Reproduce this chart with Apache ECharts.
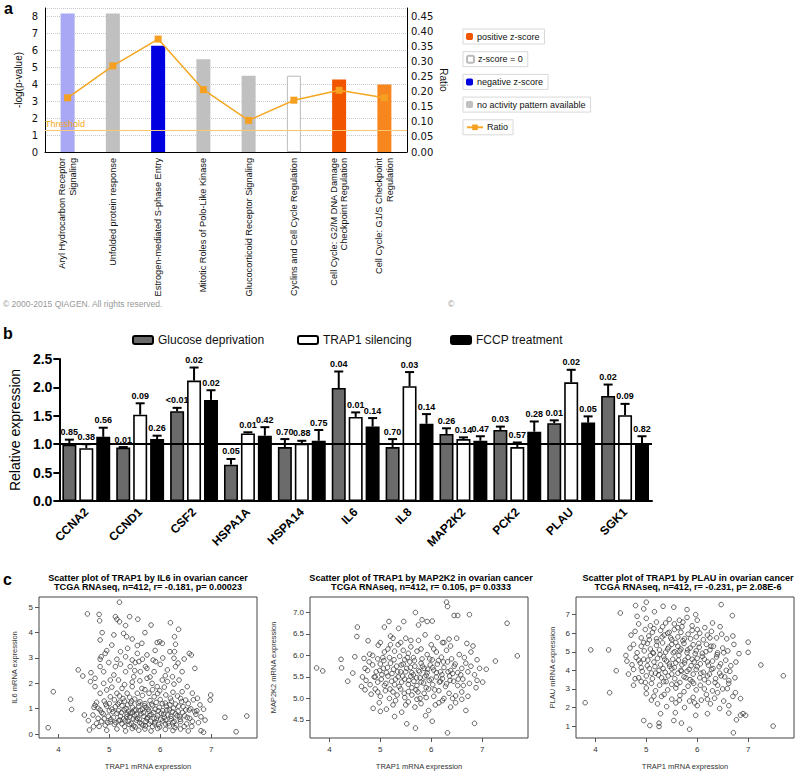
<!DOCTYPE html>
<html><head><meta charset="utf-8">
<script src="https://cdn.jsdelivr.net/npm/echarts@6/dist/echarts.min.js"></script>
<style>html,body{margin:0;padding:0;background:#fff}#c{width:798px;height:775px}</style>
</head><body><div id="c"></div>
<script>
// ---------- Panel a ----------
const pathways = ['Aryl Hydrocarbon Receptor\nSignaling','Unfolded protein response','Estrogen-mediated S-phase Entry','Mitotic Roles of Polo-Like Kinase','Glucocorticoid Receptor Signaling','Cyclins and Cell Cycle Regulation','Cell Cycle: G2/M DNA Damage\nCheckpoint Regulation','Cell Cycle: G1/S Checkpoint\nRegulation'];
const logP = [8.17, 8.17, 6.27, 5.48, 4.5, 4.5, 4.28, 3.98];
const zClass = ['negative z-score','no activity pattern available','negative z-score','no activity pattern available','no activity pattern available','z-score = 0','positive z-score','positive z-score'];
const barColors = ['#a8a8f4','#c0c0c0','#0000e0','#c0c0c0','#c0c0c0','#ffffff','#f25500','#f7861f'];
const ratio = [0.18, 0.286, 0.375, 0.207, 0.105, 0.172, 0.205, 0.18];
const threshold = 1.3;
const logPTicks = [0,1,2,3,4,5,6,7,8];
const ratioTicks = [0,0.05,0.1,0.15,0.2,0.25,0.3,0.35,0.4,0.45];

// ---------- Panel b ----------
const genes = ['CCNA2','CCND1','CSF2','HSPA1A','HSPA14','IL6','IL8','MAP2K2','PCK2','PLAU','SGK1'];
const glucoseMean = [0.99,0.94,1.58,0.64,0.95,1.99,0.95,1.18,1.25,1.37,1.85];
const glucoseErr  = [0.09,0.01,0.06,0.10,0.14,0.29,0.14,0.10,0.06,0.05,0.20];
const glucoseP    = ['0.85','0.01','<0.01','0.05','0.70','0.04','0.70','0.26','0.03','0.01','0.02'];
const trapMean = [0.93,1.52,2.12,1.19,1.01,1.48,2.02,1.09,0.95,2.09,1.51];
const trapErr  = [0.07,0.20,0.23,0.02,0.05,0.08,0.25,0.03,0.08,0.22,0.20];
const trapP    = ['0.38','0.09','0.02','0.01','0.88','0.01','0.03','0.14','0.57','0.02','0.09'];
const fccpMean = [1.13,1.09,1.78,1.15,1.06,1.31,1.36,1.06,1.22,1.38,0.99];
const fccpErr  = [0.16,0.06,0.17,0.15,0.19,0.15,0.17,0.08,0.18,0.11,0.15];
const fccpP    = ['0.56','0.26','0.02','0.42','0.75','0.14','0.14','0.47','0.28','0.05','0.82'];
const relTicks = [0,0.5,1,1.5,2,2.5];

// ---------- Panel c ----------
const trapTicks = [4,5,6,7];
const il6Ticks = [0,1,2,3,4,5];
const map2k2Ticks = [4.5,5,5.5,6,6.5,7];
const plauTicks = [1,2,3,4,5,6,7];
const il6Points = [
[3.80,0.25],[3.90,1.67],[4.24,1.37],[4.26,0.97],[4.39,2.53],[4.48,2.29],[4.57,4.74],[4.51,0.75],[4.59,0.53],[4.61,0.16],[4.64,2.42],[4.63,2.07],[4.72,2.2],[4.69,0.29],[4.72,1.14],[4.80,4.72],[4.81,4.47],[4.82,3.71],[4.82,2.95],[4.84,3.05],[4.86,4.0],[4.89,2.46],[4.92,3.18],[4.95,3.29],[5.05,3.51],[5.09,3.91],[5.12,4.63],[5.15,4.53],[5.20,5.2],[5.20,4.43],[5.28,3.97],[5.32,4.28],[5.34,3.84],[5.40,4.63],[5.36,3.38],[5.56,4.53],[5.55,3.49],[5.64,3.58],[5.82,4.3],[5.86,2.92],[5.91,2.86],[5.94,3.61],[5.99,3.64],[6.04,3.58],[6.20,4.39],[6.19,3.25],[6.28,3.25],[6.28,3.84],[6.30,3.54],[6.36,4.13],[6.47,2.96],[6.57,3.18],[6.61,3.12],[6.68,2.59],[6.99,1.54],[6.98,1.34],[7.27,0.66],[7.49,0.09],[7.70,0.71],[6.80,0.13],[6.85,0.07],[6.88,0.55],
[5.45,2.92],[5.51,2.82],[5.12,2.66],[5.22,2.76],[5.09,2.33],[5.18,2.13],[5.32,2.46],[5.48,2.26],[5.61,2.46],[5.71,2.66],[5.74,2.2],[5.84,2.0],[5.94,1.87],[6.04,2.13],[6.14,2.07],[6.24,2.26],[6.27,1.97],[6.37,2.13],[6.43,1.67],[6.53,1.87],[6.63,1.61],[6.73,1.41],[4.95,1.74],[5.02,1.47],[5.15,1.61],[5.25,1.8],[5.35,1.61],[5.45,1.87],[5.55,1.61],[5.64,1.8],[5.78,1.61],[5.88,1.47],[5.99,1.71],[6.11,1.54],[6.20,1.41],[6.34,1.5],[6.50,1.34],[4.82,1.61],[4.89,2.0],[4.72,1.87],[5.02,2.13],[5.41,2.66],[5.58,2.86],[5.74,2.59],[5.88,2.46],[6.14,2.53],[6.30,2.66],[6.43,2.46],[6.27,2.99],[5.32,3.05],[5.55,3.18],[5.74,3.12],[5.22,3.25],[4.82,2.66],[4.99,2.82],
[4.75,1.25],[4.9,1.3],[5.0,1.2],[5.1,1.35],[5.2,1.25],[5.3,1.3],[5.42,1.22],[5.5,1.38],[5.6,1.28],[5.7,1.2],[5.8,1.32],[5.92,1.25],[6.0,1.36],[6.1,1.22],[6.22,1.3],[6.3,1.18],[6.42,1.28],[6.55,1.2],[6.65,1.35],[6.78,1.15],
[4.7,1.05],[4.82,0.95],[4.95,1.1],[5.05,0.98],[5.12,1.08],[5.18,0.92],[5.25,1.12],[5.33,1.0],[5.38,0.9],[5.46,1.05],[5.52,0.95],[5.58,1.1],[5.65,0.98],[5.72,1.05],[5.78,0.9],[5.85,1.12],[5.9,0.98],[5.98,1.05],[6.05,0.92],[6.12,1.1],[6.18,0.95],[6.26,1.02],[6.35,0.9],[6.45,1.08],[6.5,0.95],[6.6,1.0],[6.72,0.92],[6.85,0.98],
[4.68,0.75],[4.78,0.62],[4.88,0.8],[4.98,0.7],[5.08,0.65],[5.15,0.82],[5.22,0.7],[5.28,0.6],[5.35,0.78],[5.4,0.68],[5.45,0.85],[5.5,0.72],[5.55,0.62],[5.62,0.8],[5.68,0.7],[5.75,0.65],[5.82,0.78],[5.88,0.62],[5.95,0.72],[6.02,0.82],[6.08,0.66],[6.15,0.75],[6.22,0.6],[6.3,0.8],[6.38,0.68],[6.48,0.72],[6.58,0.62],[6.7,0.78],[6.8,0.68],
[4.75,0.42],[4.85,0.5],[4.92,0.35],[5.02,0.48],[5.1,0.38],[5.18,0.52],[5.25,0.4],[5.3,0.3],[5.37,0.5],[5.43,0.42],[5.48,0.32],[5.53,0.55],[5.6,0.45],[5.66,0.35],[5.72,0.5],[5.78,0.4],[5.85,0.3],[5.9,0.48],[5.97,0.38],[6.05,0.52],[6.1,0.4],[6.18,0.32],[6.25,0.45],[6.32,0.35],[6.4,0.5],[6.52,0.4],[6.62,0.3],[6.75,0.45],
[4.95,0.15],[5.15,0.2],[5.32,0.12],[5.45,0.22],[5.58,0.15],[5.7,0.2],[5.82,0.12],[5.95,0.22],[6.1,0.18],[6.25,0.14],[6.4,0.2],[6.55,0.12],
[5.03,0.58],[5.07,0.88],[5.13,0.45],[5.17,1.18],[5.21,0.55],[5.24,0.85],[5.27,1.4],[5.29,0.95],[5.31,0.52],[5.34,0.68],[5.36,1.15],[5.39,0.38],[5.41,0.82],[5.44,1.3],[5.47,0.6],[5.49,0.95],[5.51,0.28],[5.54,0.78],[5.57,1.22],[5.59,0.58],[5.61,0.92],[5.63,0.4],[5.67,0.84],[5.69,1.12],[5.71,0.32],[5.74,0.6],[5.76,0.98],[5.79,0.72],[5.81,0.5],[5.83,1.18],[5.87,0.85],[5.89,0.4],[5.93,0.62],[5.96,0.92],[5.99,0.28],[6.01,0.58],[6.04,1.2],[6.07,0.78],[6.11,0.55],[6.13,0.95],[6.16,0.42],[6.19,1.15],[6.21,0.7],[6.24,0.88],[6.27,0.5],[6.29,0.25],[6.33,0.72],[6.36,1.1],[6.39,0.58],[6.44,0.85],[6.47,0.3],[6.53,0.65],[6.57,0.95],[6.63,0.5],[6.68,0.88],[4.85,0.85],[4.9,0.6],[4.93,1.18],[4.97,0.45],[5.0,0.92],[4.78,1.02],[4.8,0.3],[5.6,2.1],[5.45,2.05],[5.3,1.95],[5.7,1.75],[5.95,1.6],[6.08,1.85],[5.2,1.5],[5.4,1.45],[5.65,1.52],[5.85,1.75],[6.25,1.65],[6.4,1.4],[5.05,1.85],[5.5,2.5],[5.8,2.25],[6.1,2.3],[5.15,2.95],[5.65,2.95],[6.0,2.75],[6.35,2.8],[5.9,3.3],[5.45,3.75],[5.7,4.0],[6.05,3.0]
];
const map2k2Points = [
[3.75,5.71],[3.87,5.64],[4.23,5.91],[4.24,5.71],[4.36,5.40],[4.46,5.59],[4.50,5.97],[4.55,6.66],[4.54,6.44],[4.63,5.28],[4.68,5.93],[4.70,5.70],[4.76,6.34],[4.79,6.03],[4.86,4.77],[4.96,6.24],[5.0,4.70],[5.08,6.66],[5.17,6.79],[5.25,6.40],[5.28,4.58],[5.36,6.63],[5.46,6.79],[5.52,4.41],[5.69,7.0],[5.75,6.71],[5.82,6.83],[5.92,6.79],[6.02,6.80],[5.69,4.31],[5.89,4.60],[6.02,4.47],[6.30,7.24],[6.32,7.14],[6.45,6.93],[6.52,6.93],[6.32,4.20],[6.68,4.72],[6.85,4.42],[7.08,5.68],[7.01,5.38],[6.75,6.95],[7.26,5.87],[7.49,6.75],[7.69,5.99],[6.22,6.30],
[5.0,6.3],[5.2,6.45],[5.35,6.25],[5.5,6.4],[5.6,6.2],[5.75,6.35],[5.88,6.48],[6.0,6.25],[6.12,6.42],[6.25,6.3],[6.38,6.22],[6.5,6.4],[6.7,6.28],[6.82,6.22],[5.15,6.15],[5.45,6.12],
[4.85,6.0],[4.95,5.92],[5.08,6.08],[5.18,5.95],[5.28,6.1],[5.38,5.98],[5.48,5.9],[5.55,6.05],[5.65,5.95],[5.72,6.1],[5.82,5.92],[5.92,6.02],[6.02,5.9],[6.1,6.08],[6.2,5.96],[6.3,6.12],[6.4,5.92],[6.55,6.02],[6.65,5.95],[6.78,6.08],[6.9,5.9],
[4.75,5.65],[4.85,5.78],[4.92,5.62],[5.0,5.8],[5.06,5.7],[5.12,5.6],[5.2,5.82],[5.26,5.68],[5.32,5.75],[5.4,5.62],[5.45,5.8],[5.52,5.7],[5.58,5.85],[5.62,5.6],[5.68,5.75],[5.75,5.65],[5.8,5.82],[5.86,5.7],[5.92,5.6],[5.98,5.78],[6.05,5.66],[6.12,5.8],[6.18,5.62],[6.25,5.72],[6.32,5.85],[6.38,5.65],[6.45,5.75],[6.52,5.6],[6.6,5.7],[6.72,5.62],[6.85,5.55],[6.95,5.7],
[4.72,5.42],[4.8,5.32],[4.88,5.5],[4.95,5.38],[5.02,5.45],[5.08,5.3],[5.15,5.52],[5.22,5.4],[5.28,5.32],[5.35,5.5],[5.42,5.38],[5.48,5.45],[5.55,5.33],[5.6,5.52],[5.66,5.4],[5.72,5.3],[5.78,5.48],[5.85,5.36],[5.9,5.54],[5.96,5.42],[6.03,5.32],[6.1,5.5],[6.16,5.38],[6.22,5.46],[6.3,5.34],[6.36,5.52],[6.44,5.4],[6.52,5.3],[6.62,5.45],[6.75,5.35],[6.9,5.42],
[4.7,5.2],[4.82,5.1],[4.9,5.22],[5.0,5.05],[5.1,5.18],[5.18,5.0],[5.25,5.15],[5.33,5.08],[5.4,5.22],[5.48,5.02],[5.55,5.16],[5.62,5.08],[5.7,5.2],[5.78,5.0],[5.86,5.12],[5.95,5.22],[6.05,5.05],[6.15,5.18],[6.25,5.0],[6.35,5.12],[6.48,5.06],[6.6,5.15],[6.72,5.05],
[4.98,4.9],[5.12,4.75],[5.25,4.85],[5.42,4.68],[5.55,4.92],[5.68,4.8],[5.8,4.88],[5.95,4.72],[6.08,4.85],[6.22,4.95],[6.38,4.8],[6.48,4.9],[6.6,4.98],
[5.03,5.55],[5.07,5.88],[5.11,5.35],[5.14,5.72],[5.19,5.22],[5.23,5.58],[5.27,5.9],[5.3,5.45],[5.34,5.62],[5.37,5.28],[5.41,5.78],[5.44,5.52],[5.47,5.12],[5.5,5.62],[5.53,5.95],[5.56,5.42],[5.59,5.72],[5.62,5.25],[5.65,5.55],[5.67,5.88],[5.71,5.48],[5.74,5.15],[5.77,5.62],[5.8,5.38],[5.83,5.75],[5.87,5.5],[5.9,5.25],[5.93,5.68],[5.97,5.92],[6.0,5.45],[6.03,5.72],[6.07,5.2],[6.1,5.6],[6.14,5.88],[6.18,5.4],[6.21,5.55],[6.24,5.85],[6.28,5.28],[6.33,5.62],[6.37,5.42],[6.42,5.58],[6.47,5.8],[6.53,5.45],[6.58,5.55],[6.63,5.3],[6.68,5.82],[4.9,5.5],[4.95,5.15],[4.99,5.65],[5.05,5.95],[5.2,6.25],[5.4,6.3],[5.6,6.35],[5.8,6.15],[6.05,6.15],[6.35,6.38],[5.3,4.95],[5.5,4.85],[5.72,4.98],[5.9,5.02],[6.15,4.9],[6.42,5.0],[4.78,5.85],[4.65,5.5],[6.78,5.75],[6.88,5.25]
];
const plauPoints = [
[3.80,2.26],[3.91,5.10],[4.26,5.10],[4.28,2.80],[4.41,3.98],[4.49,7.09],[4.79,7.49],[4.82,6.91],[4.95,7.31],[5.0,7.67],[5.16,7.16],[5.33,7.45],[5.54,7.40],[5.80,7.27],[5.97,7.0],[6.47,7.54],[6.69,6.95],[7.25,4.29],[7.0,5.52],[7.0,4.97],[7.69,3.71],[7.49,1.0],[6.71,0.64],[5.85,0.83],[4.95,1.30],[5.07,1.03],[5.25,1.16],[5.25,0.98],[5.54,1.30],[5.69,1.16],[5.28,1.67],[5.57,1.72],[5.97,1.58],[6.20,1.67],[6.62,1.70],[6.77,1.34],[6.85,1.59],[6.9,1.67],[6.95,1.58],[5.0,2.75],[5.15,2.61],[6.59,3.02],[6.75,2.80],[6.85,2.48],
[4.85,6.5],[5.0,6.8],[5.08,6.4],[5.2,6.6],[5.32,6.35],[5.45,6.75],[5.55,6.5],[5.62,6.3],[5.72,6.6],[5.8,6.85],[5.9,6.4],[6.0,6.7],[6.15,6.3],[6.3,6.55],[6.45,6.35],[5.38,6.55],[5.65,6.7],
[4.7,5.9],[4.78,6.1],[4.9,5.75],[4.98,6.2],[5.05,5.85],[5.12,6.05],[5.2,5.7],[5.28,6.15],[5.35,5.9],[5.42,6.0],[5.5,5.65],[5.55,6.2],[5.62,5.8],[5.68,6.05],[5.75,5.7],[5.82,5.95],[5.9,6.15],[5.98,5.8],[6.05,6.0],[6.12,5.65],[6.2,5.9],[6.28,6.1],[6.38,5.75],[6.48,5.95],[6.58,5.7],[6.7,5.85],
[4.6,4.8],[4.68,5.2],[4.75,5.4],[4.82,4.95],[4.9,5.3],[4.96,5.05],[5.02,5.45],[5.08,5.15],[5.14,4.92],[5.2,5.35],[5.26,5.1],[5.32,5.48],[5.38,4.98],[5.44,5.25],[5.5,5.4],[5.56,5.0],[5.62,5.3],[5.68,5.15],[5.74,5.45],[5.8,4.95],[5.86,5.2],[5.92,5.38],[5.98,5.05],[6.04,5.25],[6.1,4.92],[6.18,5.4],[6.25,5.1],[6.32,5.3],[6.4,4.95],[6.5,5.2],[6.6,5.05],[6.72,5.4],[6.82,4.9],
[4.62,4.5],[4.72,4.3],[4.8,4.7],[4.88,4.4],[4.95,4.6],[5.02,4.25],[5.08,4.8],[5.15,4.45],[5.22,4.65],[5.28,4.3],[5.34,4.75],[5.4,4.5],[5.46,4.22],[5.52,4.6],[5.58,4.4],[5.64,4.8],[5.7,4.3],[5.76,4.55],[5.82,4.7],[5.88,4.25],[5.94,4.45],[6.0,4.65],[6.06,4.35],[6.14,4.6],[6.22,4.28],[6.3,4.5],[6.38,4.72],[6.46,4.35],[6.56,4.55],[6.66,4.25],[6.76,4.45],
[4.65,3.8],[4.75,4.05],[4.85,3.6],[4.92,3.95],[5.0,3.7],[5.06,4.1],[5.12,3.55],[5.18,3.85],[5.25,4.0],[5.3,3.6],[5.37,3.9],[5.43,3.7],[5.5,4.1],[5.56,3.55],[5.62,3.85],[5.68,4.0],[5.74,3.65],[5.8,3.95],[5.86,3.5],[5.92,3.8],[5.98,4.05],[6.05,3.6],[6.12,3.9],[6.2,3.7],[6.28,4.05],[6.36,3.55],[6.44,3.85],[6.54,3.65],[6.64,3.95],[6.74,3.6],
[4.75,3.2],[4.9,3.4],[5.0,3.05],[5.1,3.3],[5.18,2.9],[5.26,3.2],[5.34,3.4],[5.42,2.95],[5.5,3.25],[5.58,3.05],[5.66,3.35],[5.74,2.85],[5.82,3.15],[5.9,3.4],[5.98,2.95],[6.06,3.2],[6.14,3.0],[6.22,3.35],[6.3,2.9],[6.4,3.2],[6.5,3.0],[6.62,3.3],
[5.1,2.4],[5.22,2.2],[5.3,2.6],[5.4,2.05],[5.5,2.45],[5.58,2.25],[5.66,2.65],[5.75,2.0],[5.85,2.35],[5.92,2.55],[6.0,2.1],[6.08,2.4],[6.18,2.7],[6.26,2.2],[6.34,2.5],[6.44,1.95],[6.52,2.35],[6.62,2.1],[6.7,2.6],
[5.03,4.55],[5.06,5.65],[5.1,3.85],[5.13,4.95],[5.17,4.2],[5.21,5.55],[5.24,3.75],[5.27,4.85],[5.31,5.8],[5.33,4.1],[5.36,4.6],[5.39,3.4],[5.42,5.15],[5.45,4.35],[5.48,5.75],[5.5,3.8],[5.53,4.95],[5.55,4.15],[5.58,5.5],[5.6,3.25],[5.63,4.55],[5.66,5.05],[5.69,3.95],[5.72,5.6],[5.75,4.4],[5.78,3.6],[5.81,5.1],[5.84,4.05],[5.87,5.7],[5.9,4.6],[5.93,3.3],[5.96,4.9],[6.0,4.2],[6.03,5.45],[6.07,3.85],[6.1,4.75],[6.14,3.5],[6.17,5.0],[6.2,4.45],[6.24,3.8],[6.27,5.3],[6.31,4.1],[6.35,3.35],[6.39,4.85],[6.43,4.2],[6.47,3.7],[6.52,4.95],[6.57,4.0],[6.62,3.45],[4.9,4.15],[4.95,5.5],[4.98,3.35],[4.85,4.55],[4.78,3.55],[5.15,6.25],[5.45,6.05],[5.7,6.35],[6.0,6.2],[6.25,5.75],[5.35,2.7],[5.65,2.4],[5.95,2.25],[6.2,2.45],[6.4,2.8]
];

// ---------------------------------------------------------
const FF = '"Liberation Sans", Arial, sans-serif';
const chart = echarts.init(document.getElementById('c'), null, {renderer: 'svg'});

const zClasses = ['positive z-score','z-score = 0','negative z-score','no activity pattern available'];
const classColor = {'positive z-score':'#f25500','z-score = 0':'#ffffff','negative z-score':'#0000e0','no activity pattern available':'#c0c0c0'};

const barSeriesA = zClasses.map(cls => ({
  name: cls, type: 'bar', stack: 'p', xAxisIndex: 0, yAxisIndex: 0, barWidth: 14,
  itemStyle: {color: classColor[cls], borderColor: cls === 'z-score = 0' ? '#bbbbbb' : classColor[cls], borderWidth: cls === 'z-score = 0' ? 1 : 0},
  data: logP.map((v, i) => zClass[i] === cls ? {value: v, itemStyle: {color: barColors[i]}} : '-'),
  markLine: cls === 'positive z-score' ? {
    silent: true, symbol: 'none',
    lineStyle: {color: '#f9c870', type: 'solid', width: 1},
    label: {show: true, position: 'insideStartTop', formatter: 'Threshold', color: '#f5a623', fontSize: 9, fontFamily: FF, distance: [0, 1]},
    data: [{yAxis: threshold}]
  } : undefined
}));

const BW = 14, GAP = 0.21;
function errSeries(k, means, errs, pv) {
  const off = (k - 1) * (BW + BW * GAP);
  return {
    type: 'custom', xAxisIndex: 1, yAxisIndex: 2, z: 5, silent: true,
    data: genes.map((g, i) => [i, means[i], errs[i]]),
    encode: {x: 0, y: 1},
    renderItem: function (params, api) {
      const i = api.value(0), m = api.value(1), e = api.value(2);
      const b = api.coord([i, m]), t = api.coord([i, m + e]);
      const x = b[0] + off;
      return {type: 'group', children: [
        {type: 'line', shape: {x1: x, y1: b[1], x2: x, y2: t[1]}, style: {stroke: '#000', lineWidth: 2}},
        {type: 'line', shape: {x1: x - 4.5, y1: t[1], x2: x + 4.5, y2: t[1]}, style: {stroke: '#000', lineWidth: 2}},
        {type: 'text', x: x, y: t[1] - 3, style: {text: pv[i], align: 'center', verticalAlign: 'bottom', font: 'bold 9px ' + FF, fill: '#000'}}
      ]};
    }
  };
}
function barB(name, color, means) {
  return {name, type: 'bar', xAxisIndex: 1, yAxisIndex: 2, barWidth: BW, barGap: (GAP * 100) + '%',
    itemStyle: {color, borderColor: '#000', borderWidth: 1.6}, data: means};
}

function scatterAxes(idx, ticks, yMin, yMax, yName, yGap, fmt) {
  return [
    {type: 'value', gridIndex: idx, min: 3.62, max: 7.9,
      axisLine: {show: false}, splitLine: {show: false},
      axisTick: {show: true, length: 4, lineStyle: {color: '#555'}, customValues: trapTicks},
      axisLabel: {fontSize: 8, color: '#333', margin: 7, customValues: trapTicks, fontFamily: FF},
      name: 'TRAP1 mRNA expression', nameLocation: 'middle', nameGap: 24, nameTextStyle: {fontSize: 7.5, color: '#333', fontFamily: FF}},
    {type: 'value', gridIndex: idx, min: yMin, max: yMax,
      axisLine: {show: false}, splitLine: {show: false},
      axisTick: {show: true, length: 4, lineStyle: {color: '#555'}, customValues: ticks},
      axisLabel: {fontSize: 8, color: '#333', margin: 6, customValues: ticks, formatter: fmt, fontFamily: FF},
      name: yName, nameLocation: 'middle', nameGap: yGap, nameTextStyle: {fontSize: 7.5, color: '#333', fontFamily: FF}}
  ];
}
const s1 = scatterAxes(2, il6Ticks, -0.156, 5.406, 'IL6 mRNA expression', 21, v => String(v));
const s2 = scatterAxes(3, map2k2Ticks, 4.08, 7.36, 'MAP2K2 mRNA expression', 33, v => v.toFixed(1));
const s3 = scatterAxes(4, plauTicks, 0.36, 7.95, 'PLAU mRNA expression', 20, v => String(v));

function scat(idx, pts) {
  return {type: 'scatter', xAxisIndex: idx, yAxisIndex: idx + 1, symbol: 'circle', symbolSize: 4.6, silent: true,
    itemStyle: {color: 'rgba(0,0,0,0)', borderColor: '#3c3c3c', borderWidth: 1}, data: pts};
}

function legendA(name, i, icon) {
  return {data: [name], left: 463, top: 29 + i * 22.7, orient: 'horizontal',
    borderColor: '#d8d8d8', borderWidth: 1, padding: [3, 5, 3, 3], itemWidth: icon ? 16 : 7, itemHeight: 7, itemGap: 4,
    textStyle: {fontSize: 9, color: '#111', fontFamily: FF, padding: [0, 0, 0, -1]}, selectedMode: false};
}
function legendB(name, left) {
  return {data: [name], left, top: 334, padding: 0, itemWidth: 20, itemHeight: 8, selectedMode: false,
    textStyle: {fontSize: 12, color: '#111', fontFamily: FF}};
}

const titleFont = 'bold 9.1px ' + FF;
const option = {
  animation: false,
  textStyle: {fontFamily: FF},
  grid: [
    {left: 45, top: 8, width: 362, height: 144},
    {left: 49, top: 359, width: 603, height: 142},
    {left: 39, top: 597, width: 218, height: 141, show: true, borderColor: '#444', borderWidth: 1},
    {left: 310, top: 597, width: 218, height: 141, show: true, borderColor: '#444', borderWidth: 1},
    {left: 576, top: 597, width: 218, height: 141, show: true, borderColor: '#444', borderWidth: 1}
  ],
  legend: [
    legendA('positive z-score', 0), legendA('z-score = 0', 1), legendA('negative z-score', 2),
    legendA('no activity pattern available', 3), legendA('Ratio', 4, true),
    legendB('Glucose deprivation', 132), legendB('TRAP1 silencing', 297), legendB('FCCP treatment', 450)
  ],
  xAxis: [
    {type: 'category', gridIndex: 0, data: pathways,
      axisLine: {lineStyle: {color: '#000', width: 1}}, axisTick: {show: false},
      axisLabel: {interval: 0, rotate: 90, fontSize: 9.2, lineHeight: 10.5, color: '#111', margin: 6, fontFamily: FF}},
    {type: 'category', gridIndex: 1, data: genes,
      axisLine: {lineStyle: {color: '#000', width: 2}},
      axisTick: {alignWithLabel: true, length: 6, lineStyle: {color: '#000', width: 2}},
      axisLabel: {interval: 0, rotate: 45, fontSize: 12, fontWeight: 'bold', color: '#000', margin: 9, fontFamily: FF}},
    s1[0], s2[0], s3[0]
  ],
  yAxis: [
    {type: 'value', gridIndex: 0, min: 0, max: 8.5, interval: 1,
      axisLine: {show: true, lineStyle: {color: '#000'}}, axisTick: {show: false},
      axisLabel: {fontSize: 10, color: '#111', showMaxLabel: false, margin: 7, fontFamily: '"DejaVu Sans", sans-serif',
        formatter: v => logPTicks.indexOf(v) >= 0 ? String(v) : ''},
      splitLine: {show: true, lineStyle: {color: '#c8c8c8', type: 'dotted'}},
      name: '-log(p-value)', nameLocation: 'middle', nameGap: 22, nameRotate: 90,
      nameTextStyle: {fontSize: 10, color: '#111', fontFamily: FF}},
    {type: 'value', gridIndex: 0, min: 0, max: 0.478125, interval: 0.05, position: 'right',
      axisLine: {show: true, lineStyle: {color: '#000'}}, axisTick: {show: false},
      axisLabel: {fontSize: 10, color: '#111', showMaxLabel: false, margin: 4, fontFamily: '"DejaVu Sans", sans-serif',
        formatter: v => ratioTicks.some(t => Math.abs(t - v) < 1e-6) ? v.toFixed(2) : ''},
      splitLine: {show: false},
      name: 'Ratio', nameLocation: 'middle', nameGap: 31, nameRotate: -90,
      nameTextStyle: {fontSize: 10, color: '#111', fontFamily: FF}},
    {type: 'value', gridIndex: 1, min: 0, max: 2.5, interval: 0.5,
      axisLine: {show: true, lineStyle: {color: '#000', width: 2}},
      axisTick: {show: true, length: 6, lineStyle: {color: '#000', width: 2}},
      axisLabel: {fontSize: 14, fontWeight: 'bold', color: '#000', margin: 7, fontFamily: FF,
        formatter: v => relTicks.indexOf(v) >= 0 ? v.toFixed(1) : ''},
      splitLine: {show: false},
      name: 'Relative expression', nameLocation: 'middle', nameGap: 37, nameRotate: 90,
      nameTextStyle: {fontSize: 14, color: '#000', fontFamily: FF}},
    s1[1], s2[1], s3[1]
  ],
  series: [
    ...barSeriesA,
    {name: 'Ratio', type: 'line', xAxisIndex: 0, yAxisIndex: 1, data: ratio, symbol: 'rect', symbolSize: 7,
      itemStyle: {color: '#f5a020'}, lineStyle: {color: '#f5a623', width: 1.5}, z: 4},
    Object.assign(barB('Glucose deprivation', '#6b6b6b', glucoseMean), {
      markLine: {silent: true, symbol: 'none', label: {show: false}, lineStyle: {color: '#000', width: 2, type: 'solid'}, data: [{yAxis: 1}]}}),
    barB('TRAP1 silencing', '#ffffff', trapMean),
    barB('FCCP treatment', '#000000', fccpMean),
    errSeries(0, glucoseMean, glucoseErr, glucoseP),
    errSeries(1, trapMean, trapErr, trapP),
    errSeries(2, fccpMean, fccpErr, fccpP),
    scat(2, il6Points), scat(3, map2k2Points), scat(4, plauPoints)
  ],
  graphic: [
    {type: 'text', x: 4, y: 0, style: {text: 'a', font: 'bold 16px ' + FF, fill: '#000'}},
    {type: 'text', x: 3, y: 299, style: {text: '© 2000-2015 QIAGEN. All rights reserved.', font: '8.5px ' + FF, fill: '#999'}},
    {type: 'text', x: 448, y: 299, style: {text: '©', font: '8.5px ' + FF, fill: '#999'}},
    {type: 'text', x: 3, y: 325, style: {text: 'b', font: 'bold 16px ' + FF, fill: '#000'}},
    {type: 'text', x: 3, y: 571, style: {text: 'c', font: 'bold 16px ' + FF, fill: '#000'}},
    {type: 'text', x: 148, y: 573, style: {text: 'Scatter plot of TRAP1 by IL6 in ovarian cancer\nTCGA RNAseq, n=412, r= -0.181, p= 0.00023', align: 'center', verticalAlign: 'top', font: titleFont, lineHeight: 9.5, fill: '#000'}},
    {type: 'text', x: 421, y: 573, style: {text: 'Scatter plot of TRAP1 by MAP2K2 in ovarian cancer\nTCGA RNAseq, n=412, r= 0.105, p= 0.0333', align: 'center', verticalAlign: 'top', font: titleFont, lineHeight: 9.5, fill: '#000'}},
    {type: 'text', x: 688, y: 573, style: {text: 'Scatter plot of TRAP1 by PLAU in ovarian cancer\nTCGA RNAseq, n=412, r= -0.231, p= 2.08E-6', align: 'center', verticalAlign: 'top', font: titleFont, lineHeight: 9.5, fill: '#000'}}
  ]
};
chart.setOption(option);
</script></body></html>
